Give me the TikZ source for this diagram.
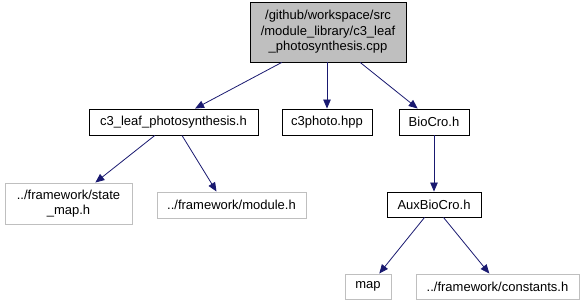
\documentclass[tikz,border=0pt]{standalone}
\usepackage{fontspec}
\setmainfont{Liberation Sans}
\usetikzlibrary{arrows.meta,calc}
\definecolor{edgeblue}{RGB}{25,25,112}
\definecolor{fillgray}{RGB}{191,191,191}
\definecolor{missgray}{RGB}{191,191,191}
\tikzset{
  file/.style={draw=black, line width=0.9pt, fill=white, inner sep=0pt,
    font=\fontsize{13}{15.5}\selectfont, align=center},
  current/.style={file, fill=fillgray},
  missing/.style={file, draw=missgray},
  dep/.style={draw=edgeblue, line width=0.8pt,
    -{Triangle[length=9pt,width=7.5pt,fill=edgeblue]}},
}
\begin{document}
\begin{tikzpicture}[x=1pt,y=-1pt]
\useasboundingbox (0,0) rectangle (585,305);
% header file being documented
\node[current, minimum width=156pt, minimum height=60pt] (top) at (328,32)
  {/github/workspace/src\\/module\_library/c3\_leaf\\\_photosynthesis.cpp};
% direct includes
\node[file, minimum width=169pt, minimum height=26pt] (c3leaf) at (173.5,122) {c3\_leaf\_photosynthesis.h};
\node[file, minimum width=90pt, minimum height=26pt] (c3photo) at (327,122) {c3photo.hpp};
\node[file, minimum width=70pt, minimum height=26pt] (biocro) at (434,122) {BioCro.h};
% second level
\node[missing, minimum width=127pt, minimum height=41pt] (statemap) at (68.5,203.5) {../framework/state\\\_map.h};
\node[missing, minimum width=149pt, minimum height=26pt] (module) at (231.5,205) {../framework/module.h};
\node[file, minimum width=94pt, minimum height=25pt] (aux) at (434,204.5) {AuxBioCro.h};
% third level
\node[missing, minimum width=46pt, minimum height=25pt] (map) at (368,286.5) {map};
\node[missing, minimum width=163pt, minimum height=25pt] (consts) at (497.5,286.5) {../framework/constants.h};
% include edges
\draw[dep] ($(top.south west)!0.205!(top.south east)$) -- ($(c3leaf.north west)!0.627!(c3leaf.north east)$);
\draw[dep] (top.south -| c3photo.north) -- (c3photo.north);
\draw[dep] ($(top.south west)!0.705!(top.south east)$) -- ($(biocro.north west)!0.27!(biocro.north east)$);
\draw[dep] ($(c3leaf.south west)!0.39!(c3leaf.south east)$) -- ($(statemap.north west)!0.71!(statemap.north east)$);
\draw[dep] ($(c3leaf.south west)!0.55!(c3leaf.south east)$) -- ($(module.north west)!0.40!(module.north east)$);
\draw[dep] (biocro.south) -- (aux.north);
\draw[dep] ($(aux.south west)!0.40!(aux.south east)$) -- ($(map.north west)!0.74!(map.north east)$);
\draw[dep] ($(aux.south west)!0.60!(aux.south east)$) -- ($(consts.north west)!0.45!(consts.north east)$);
\end{tikzpicture}
\end{document}
